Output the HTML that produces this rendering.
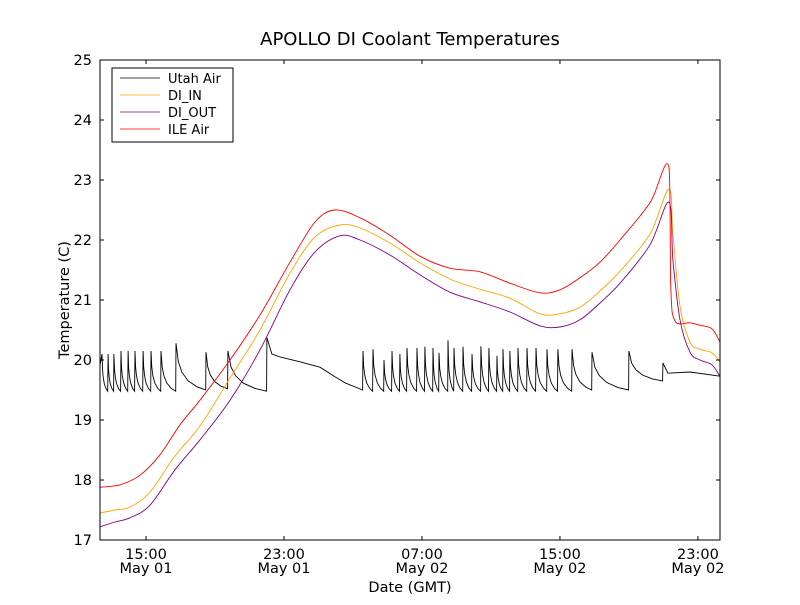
<!DOCTYPE html>
<html><head><meta charset="utf-8"><style>
body{margin:0;background:#fff}
svg text{font-family:"DejaVu Sans","Liberation Sans",sans-serif;fill:#000}
</style></head><body>
<svg id="c" width="800" height="600" xmlns="http://www.w3.org/2000/svg">
<rect width="800" height="600" fill="#fff"/>
<text x="410" y="45" font-size="18" text-anchor="middle">APOLLO DI Coolant Temperatures</text>
<text x="410" y="592" font-size="14.5" text-anchor="middle">Date (GMT)</text>
<text transform="translate(69,300) rotate(-90)" font-size="14.5" text-anchor="middle">Temperature (C)</text>
<g id="plot"></g>
<rect x="100" y="60" width="620" height="480" fill="none" stroke="#000" stroke-width="1"/>
<g>
<rect x="112" y="68" width="121" height="74" fill="#fff" stroke="#000"/>
<g><line x1="120" y1="78" x2="160" y2="78" stroke="#000" stroke-width="0.8"/><text x="168" y="83" font-size="13">Utah Air</text></g>
<g><line x1="120" y1="95" x2="160" y2="95" stroke="#ffa500" stroke-width="0.8"/><text x="168" y="100" font-size="13">DI_IN</text></g>
<g><line x1="120" y1="112" x2="160" y2="112" stroke="#800080" stroke-width="0.8"/><text x="168" y="117" font-size="13">DI_OUT</text></g>
<g><line x1="120" y1="129" x2="160" y2="129" stroke="#ff0000" stroke-width="0.8"/><text x="168" y="134" font-size="13">ILE Air</text></g>
</g>
</svg>
<script>
const yTicks=[17,18,19,20,21,22,23,24,25];
const xTickHours=[15,23,31,39,47];
const xTickTimes=["15:00","23:00","07:00","15:00","23:00"];
const xTickDates=["May 01","May 01","May 02","May 02","May 02"];
const smoothT=[12.33,13.20,14.07,15.23,16.68,18.13,19.87,21.61,23.35,24.80,26.25,27.41,29.14,30.88,32.62,34.36,36.10,37.84,39.00,40.16,41.32,42.48,44.22,45.32,45.55,45.96,46.54,47.12,47.81,48.28];
const diOut=[17.22,17.30,17.37,17.58,18.17,18.67,19.33,20.17,21.17,21.80,22.07,22.0,21.75,21.42,21.13,20.97,20.80,20.57,20.55,20.67,20.95,21.28,21.92,22.63,21.67,20.67,20.13,20.0,19.92,19.73];
const diIn=[17.45,17.5,17.55,17.8,18.4,18.9,19.7,20.5,21.45,22.05,22.25,22.2,21.95,21.62,21.35,21.18,21.03,20.77,20.77,20.88,21.15,21.48,22.1,22.85,22.1,20.9,20.3,20.18,20.12,19.97];
const ileT=[12.33,13.49,14.65,15.81,16.97,18.13,19.87,21.61,23.35,24.80,25.96,27.41,29.14,30.88,32.62,34.36,36.10,37.84,39.00,40.16,41.32,42.48,44.22,45.32,45.43,45.67,46.54,47.12,47.81,48.28];
const ileAir=[17.88,17.92,18.08,18.42,18.92,19.33,20.0,20.75,21.63,22.3,22.5,22.37,22.08,21.73,21.53,21.47,21.28,21.12,21.17,21.37,21.63,22.0,22.62,23.22,21.2,20.65,20.62,20.58,20.52,20.3];
const utahPeakT=[12.45,12.80,13.14,13.55,13.96,14.36,14.83,15.29,15.87,16.74,18.48,19.75,22.01,27.58,28.16,28.80,29.26,29.72,30.13,30.71,31.17,31.64,31.99,32.51,32.86,33.38,33.90,34.42,34.88,35.35,35.70,36.10,36.57,37.09,37.61,38.25,38.88,39.70,40.86,43.00,44.97];
const utahPeakV=[20.1,20.1,20.1,20.15,20.15,20.15,20.15,20.15,20.15,20.28,20.13,20.15,20.37,20.15,20.18,20.0,20.15,20.1,20.2,20.2,20.22,20.2,20.12,20.33,20.2,20.22,20.1,20.23,20.2,20.07,20.18,20.15,20.2,20.2,20.2,20.18,20.18,20.18,20.13,20.15,19.95];
const utahTroughV=[19.48,19.48,19.48,19.48,19.48,19.48,19.48,19.48,19.48,19.5,19.52,19.48,19.5,19.48,19.48,19.48,19.48,19.48,19.48,19.48,19.48,19.48,19.48,19.48,19.48,19.48,19.48,19.48,19.48,19.48,19.48,19.48,19.48,19.48,19.48,19.48,19.48,19.5,19.5,19.65,19.73];
const utahSlowT=[22.3,22.77,23.93,25.09,25.96,26.54];
const utahSlowV=[20.1,20.05,19.97,19.88,19.72,19.62];
const utahTailT=[45.26,46.54,48.28];
const utahTailV=[19.78,19.80,19.73];
const startV=19.9, startT=12.33;

const L=100,R=720,T=60,B=540,t0=12.333,t1=48.28,v0=17,v1=25;
const X=h=>L+(h-t0)/(t1-t0)*(R-L);
const Y=v=>B-(v-v0)/(v1-v0)*(B-T);
const NS="http://www.w3.org/2000/svg";
const svg=document.getElementById('c'),plot=document.getElementById('plot');
function mk(tag,attrs,parent){const e=document.createElementNS(NS,tag);for(const k in attrs)e.setAttribute(k,attrs[k]);(parent||svg).appendChild(e);return e;}
yTicks.forEach(v=>{
 const g=mk('g',{});
 
 
 mk('line',{x1:L,x2:L+4,y1:Y(v),y2:Y(v),stroke:'#000'},g);
 mk('line',{x1:R-4,x2:R,y1:Y(v),y2:Y(v),stroke:'#000'},g);
 const t=mk('text',{x:L-8,y:Y(v)+5,'font-size':14.5,'text-anchor':'end'},g);t.textContent=v;
});
xTickHours.forEach((h,i)=>{
 const g=mk('g',{});
 
 
 mk('line',{x1:X(h),x2:X(h),y1:B,y2:B-4,stroke:'#000'},g);
 mk('line',{x1:X(h),x2:X(h),y1:T,y2:T+4,stroke:'#000'},g);
 let t=mk('text',{x:X(h),y:B+19,'font-size':14.5,'text-anchor':'middle'},g);t.textContent=xTickTimes[i];
 t=mk('text',{x:X(h),y:B+33,'font-size':14.5,'text-anchor':'middle'},g);t.textContent=xTickDates[i];
});
function line(ts,vs,color,name,smooth){
 const P=ts.map((t,i)=>[X(t),Y(vs[i])]);
 let d='M'+P[0][0].toFixed(1)+','+P[0][1].toFixed(1);
 for(let i=0;i<P.length-1;i++){
  if(!smooth){d+=' L'+P[i+1][0].toFixed(1)+','+P[i+1][1].toFixed(1);continue;}
  const p0=P[Math.max(0,i-1)],p1=P[i],p2=P[i+1],p3=P[Math.min(P.length-1,i+2)];
  const c1=[p1[0]+(p2[0]-p0[0])/6,p1[1]+(p2[1]-p0[1])/6];
  const c2=[p2[0]-(p3[0]-p1[0])/6,p2[1]-(p3[1]-p1[1])/6];
  c1[0]=Math.min(Math.max(c1[0],p1[0]),p2[0]);c2[0]=Math.min(Math.max(c2[0],p1[0]),p2[0]);
  d+=' C'+c1[0].toFixed(1)+','+c1[1].toFixed(1)+' '+c2[0].toFixed(1)+','+c2[1].toFixed(1)+' '+p2[0].toFixed(1)+','+p2[1].toFixed(1);
 }
 const p=mk('path',{d:d,fill:'none',stroke:color,'stroke-width':0.9},plot);
 
 
}
const uT=[startT],uV=[startV];
for(let i=0;i<utahPeakT.length;i++){
 const pt=utahPeakT[i],pv=utahPeakV[i],tv=utahTroughV[i];
 uT.push(pt);uV.push(pv);
 if(i===12){utahSlowT.forEach((t,j)=>{uT.push(t);uV.push(utahSlowV[j]);});}
 if(i===utahPeakT.length-1){utahTailT.forEach((t,j)=>{uT.push(t);uV.push(utahTailV[j]);});break;}
 const nt=utahPeakT[i+1]-0.02;
 if(i!==12){
  const d=nt-pt;
  [0.08,0.2,0.4,0.7].forEach((f,k)=>{uT.push(pt+d*f);uV.push(tv+(pv-tv)*[0.6,0.38,0.2,0.07][k]);});
 }
 uT.push(nt);uV.push(tv);
}
line(uT,uV,'#000','utah-air-line',false);
line(smoothT,diIn,'#ffa500','di-in-line',true);
line(smoothT,diOut,'#800080','di-out-line',true);
line(ileT,ileAir,'#ff0000','ile-air-line',true);
</script>
</body></html>
